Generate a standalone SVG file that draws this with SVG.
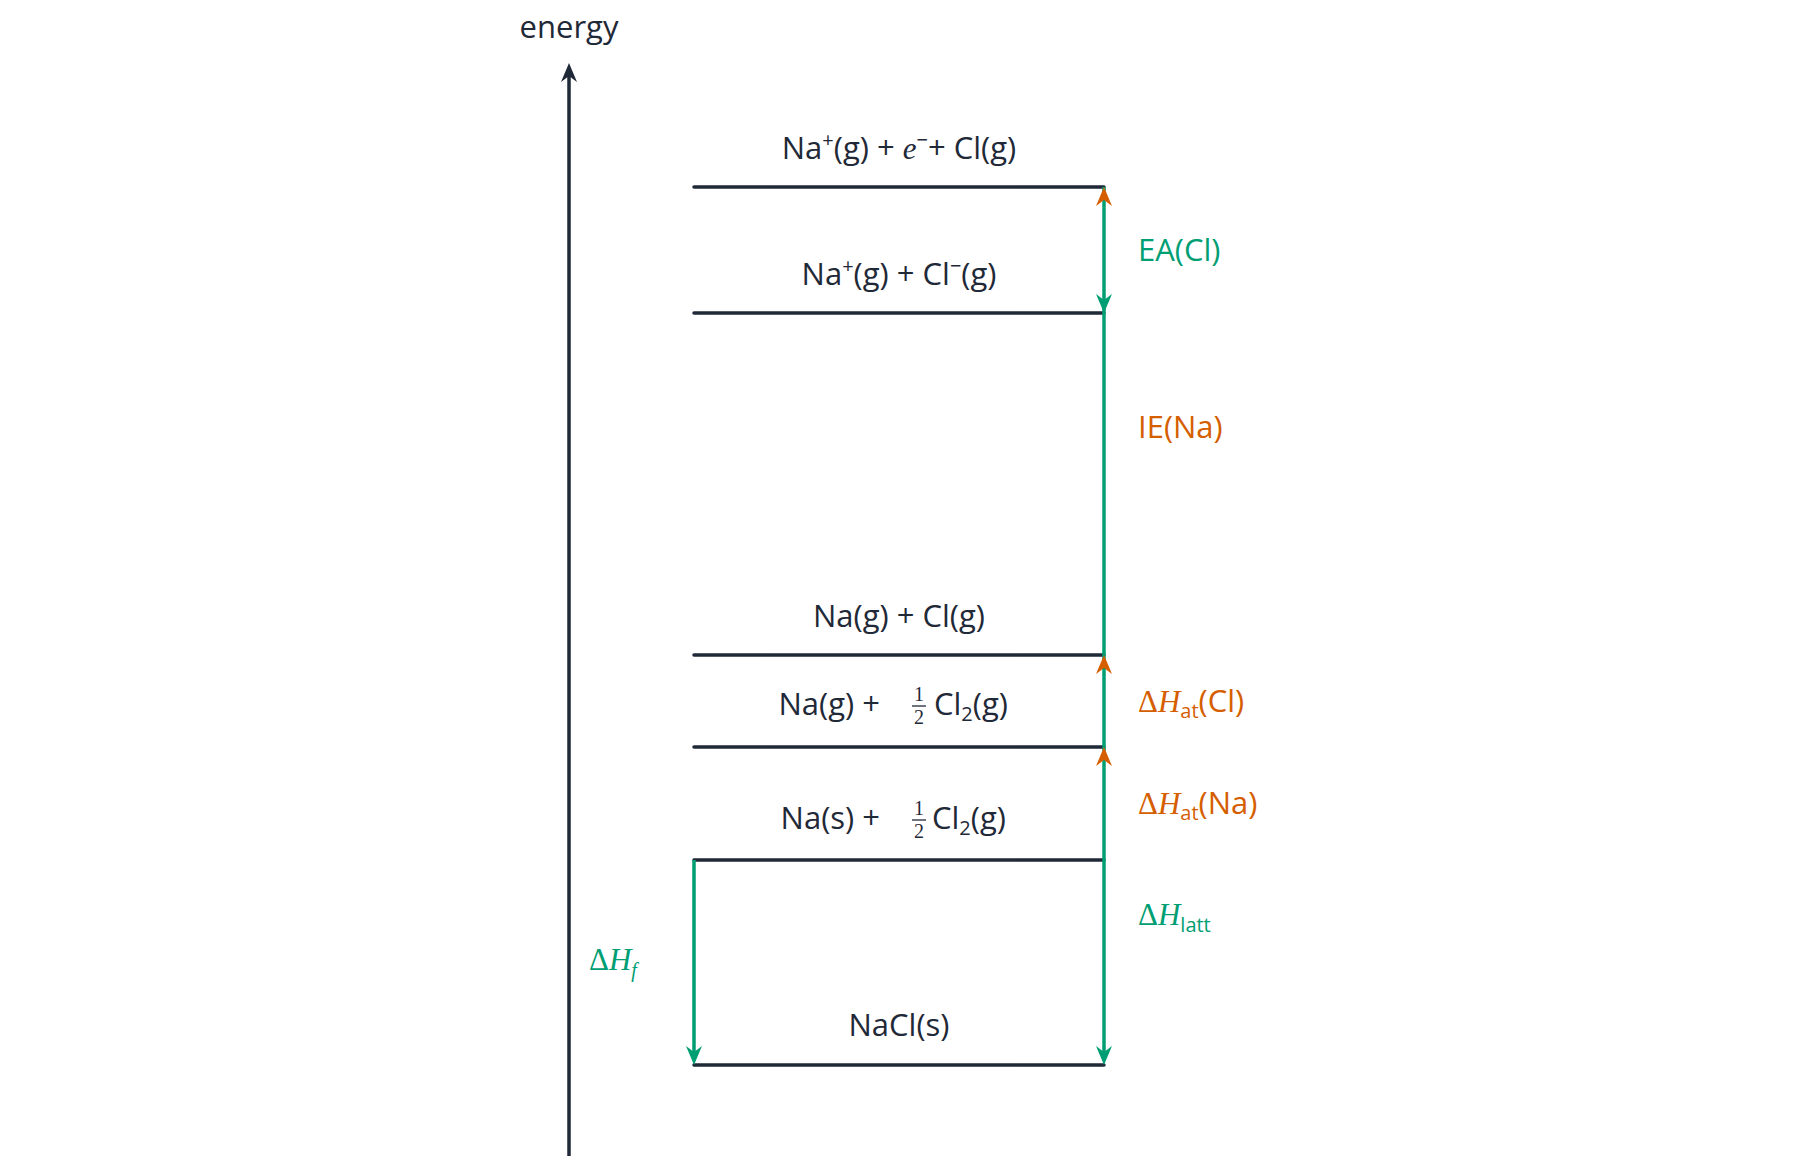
<svg xmlns="http://www.w3.org/2000/svg" width="1800" height="1162" viewBox="0 0 1800 1162">
<style>
.t{font-family:"Open Sans","DejaVu Sans",sans-serif;font-size:31px;fill:#1f2937}
.m{font-family:"Liberation Serif",serif;font-style:italic}
.s{font-size:20px}
.g{fill:#009e73}.o{fill:#d55e00}
.lv{stroke:#1f2937;stroke-width:3.5;stroke-linecap:round}
</style>
<defs>
<path id="up" d="M0,0 L-8,19 L0,13 L8,19 Z"/>
<path id="dn" d="M0,0 L-8,-19 L0,-13 L8,-19 Z"/>
</defs>
<g id="axis">
<line x1="569" y1="1156" x2="569" y2="68" stroke="#1f2937" stroke-width="3.5"/>
<use href="#up" x="569" y="63" fill="#1f2937"/>
<text class="t" x="569" y="38" text-anchor="middle">energy</text>
</g>
<g id="levels">
<g id="l1"><line class="lv" x1="694" y1="187" x2="1104" y2="187"/><text class="t" x="899" y="159" text-anchor="middle">Na<tspan class="s" dy="-12">+</tspan><tspan dy="12">(g) + </tspan><tspan class="m">e</tspan><tspan class="s" dy="-12">−</tspan><tspan dy="12">+ Cl(g)</tspan></text></g>
<g id="l2"><line class="lv" x1="694" y1="313" x2="1104" y2="313"/><text class="t" x="899" y="285" text-anchor="middle">Na<tspan class="s" dy="-12">+</tspan><tspan dy="12">(g) + Cl</tspan><tspan class="s" dy="-12">−</tspan><tspan dy="12">(g)</tspan></text></g>
<g id="l3"><line class="lv" x1="694" y1="655" x2="1104" y2="655"/><text class="t" x="899" y="627" text-anchor="middle">Na(g) + Cl(g)</text></g>
<g id="l4"><line class="lv" x1="694" y1="747" x2="1104" y2="747"/>
<text class="t" x="880" y="715" text-anchor="end">Na(g) +</text>
<text class="t s" x="919" y="701" text-anchor="middle" style="font-family:'Liberation Serif',serif">1</text>
<line x1="912" y1="706" x2="926" y2="706" stroke="#1f2937" stroke-width="1.3"/>
<text class="t s" x="919" y="724" text-anchor="middle" style="font-family:'Liberation Serif',serif">2</text>
<text class="t" x="934" y="715">Cl<tspan class="s" dy="6">2</tspan><tspan dy="-6">(g)</tspan></text></g>
<g id="l5"><line class="lv" x1="694" y1="860" x2="1104" y2="860"/>
<text class="t" x="880" y="829" text-anchor="end">Na(s) +</text>
<text class="t s" x="919" y="815" text-anchor="middle" style="font-family:'Liberation Serif',serif">1</text>
<line x1="912" y1="820" x2="926" y2="820" stroke="#1f2937" stroke-width="1.3"/>
<text class="t s" x="919" y="838" text-anchor="middle" style="font-family:'Liberation Serif',serif">2</text>
<text class="t" x="932" y="829">Cl<tspan class="s" dy="6">2</tspan><tspan dy="-6">(g)</tspan></text></g>
<g id="l6"><line class="lv" x1="694" y1="1065" x2="1104" y2="1065"/><text class="t" x="899" y="1036" text-anchor="middle">NaCl(s)</text></g>
</g>
<g id="connectors">
<line x1="1104" y1="187" x2="1104" y2="1060" stroke="#009e73" stroke-width="3.5"/>
<line x1="694" y1="860" x2="694" y2="1060" stroke="#009e73" stroke-width="3.5"/>
<use href="#up" x="1104" y="187" class="o"/>
<use href="#dn" x="1104" y="313" class="g"/>
<use href="#up" x="1104" y="655" class="o"/>
<use href="#up" x="1104" y="747" class="o"/>
<use href="#dn" x="1104" y="1065" class="g"/>
<use href="#dn" x="694" y="1065" class="g"/>
</g>
<g id="labels">
<text class="t g" x="1138" y="261">EA(Cl)</text>
<text class="t o" x="1138" y="438">IE(Na)</text>
<text class="t o" x="1138" y="712"><tspan style="font-family:'Liberation Serif',serif">Δ</tspan><tspan class="m">H</tspan><tspan class="s" dy="6">at</tspan><tspan dy="-6">(Cl)</tspan></text>
<text class="t o" x="1138" y="814"><tspan style="font-family:'Liberation Serif',serif">Δ</tspan><tspan class="m">H</tspan><tspan class="s" dy="6">at</tspan><tspan dy="-6">(Na)</tspan></text>
<text class="t g" x="1138" y="925"><tspan style="font-family:'Liberation Serif',serif">Δ</tspan><tspan class="m">H</tspan><tspan class="s" dy="7">latt</tspan></text>
<text class="t g" x="589" y="970"><tspan style="font-family:'Liberation Serif',serif">Δ</tspan><tspan class="m">H</tspan><tspan class="m s" dy="7">f</tspan></text>
</g>
</svg>
